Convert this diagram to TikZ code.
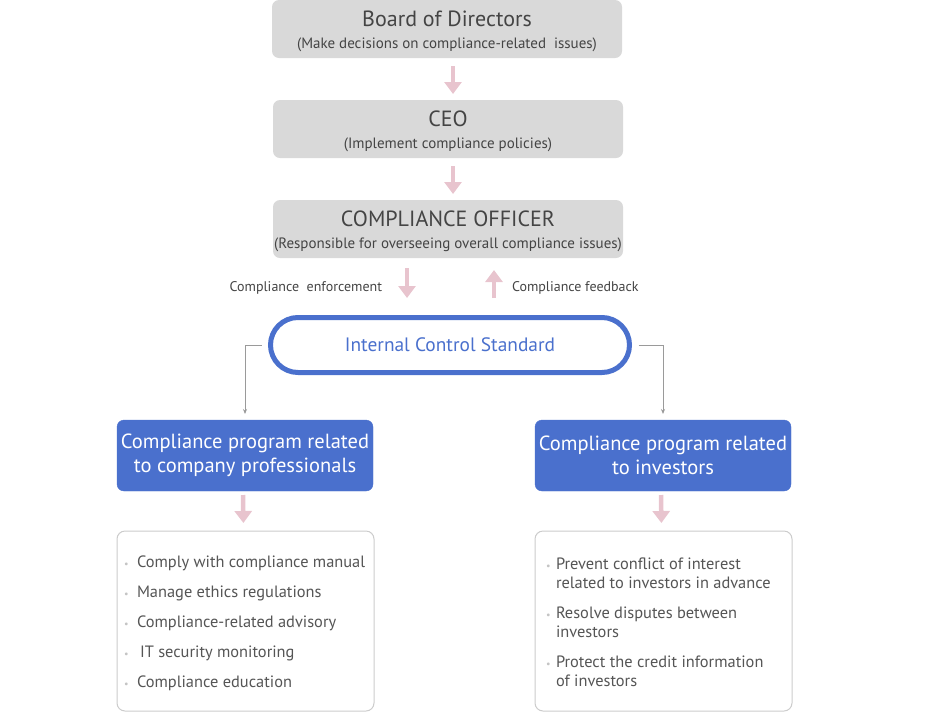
\documentclass[tikz,border=0pt]{standalone}
\usepackage{fontspec}
\usepackage{array}
\setmainfont{PT Sans}
\usepackage{tikz}
\usetikzlibrary{positioning}
\usetikzlibrary{arrows.meta}
\usetikzlibrary{calc}

\definecolor{boxgray}{HTML}{D9D9D9}
\definecolor{textgray}{HTML}{444444}
\definecolor{listgray}{HTML}{555555}
\definecolor{progblue}{HTML}{4A70CD}
\definecolor{arrowpink}{HTML}{E8C4CE}
\definecolor{linegray}{HTML}{9A9A9A}
\definecolor{framegray}{HTML}{CCCCCC}
\definecolor{dotgray}{HTML}{C4C4C4}

\newcommand{\itemdot}{\textcolor{dotgray}{\fontsize{10}{10}\selectfont\textbullet}}
\newcommand{\titlefont}{\fontsize{22}{24}\selectfont\rule{0pt}{21pt}}
\newcommand{\subfont}{\fontsize{15}{22}\selectfont}
\newcommand{\firstrow}{\rule{0pt}{19.3pt}}

\begin{document}
\begin{tikzpicture}[x=1pt, y=-1pt,
                node distance=42pt and 0pt,
                every node/.style={outer sep=0pt, inner sep=0pt, align=center, text=textgray},
                graybox/.style={fill=boxgray, rounded corners=7pt, minimum width=350pt, minimum height=58pt, font=\subfont},
                progbox/.style={fill=progblue, draw=progblue, rounded corners=7pt, minimum width=256pt, minimum height=71pt, text=white, font=\fontsize{20.5}{24}\selectfont},
                listbox/.style={fill=white, draw=framegray, line width=1pt, rounded corners=8pt, minimum width=257pt, minimum height=180pt, text=listgray, font=\fontsize{16.4}{19}\selectfont},
                pinkarrow/.style={draw=arrowpink, line width=4.5pt, -{Triangle[width=17pt,length=12pt]}},
                graylink/.style={draw=linegray, line width=0.8pt, -{Stealth[length=5pt,width=4pt]}}
            ]
            \useasboundingbox (0,0) rectangle (929,713);

            % Define nodes
            \node[graybox] (board) at (447,29) {{\titlefont Board of Directors}\\(Make decisions on compliance-related~ issues)};
            \node[graybox, below=of board, xshift=1pt] (ceo) {{\titlefont CEO}\\(Implement compliance policies)};
            \node[graybox, below=of ceo] (officer) {{\titlefont COMPLIANCE OFFICER}\\(Responsible for overseeing overall compliance issues)};

            \node[draw=progblue, fill=white, line width=5pt, rounded corners=27.5pt, minimum width=359pt, minimum height=55pt, text=progblue, font=\fontsize{19.4}{24}\selectfont] (ics) at (450,345) {Internal Control Standard};

            \node[progbox] (leftprog) at (245,455.5) {Compliance program related\\to company professionals};
            \node[progbox] (rightprog) at (663,455.5) {Compliance program related\\to investors};

            \node[listbox, below=40pt of leftprog, xshift=0.5pt] (leftlist) {%
              \begin{tabular}{@{}p{13pt}@{}>{\raggedright\arraybackslash}p{230pt}@{}}
                \firstrow\itemdot & Comply with compliance manual\\[11pt]
                \itemdot & Manage ethics regulations\\[11pt]
                \itemdot & Compliance-related advisory\\[11pt]
                \itemdot & \hspace{3pt}IT security monitoring\\[11pt]
                \itemdot & Compliance education
              \end{tabular}};
            \node[listbox, below=40pt of rightprog, xshift=0.5pt] (rightlist) {%
              \begin{tabular}{@{}p{10pt}@{}>{\raggedright\arraybackslash}p{225pt}@{}}
                \firstrow\itemdot & Prevent conflict of interest\\
                         & related to investors in advance\\[11pt]
                \itemdot & Resolve disputes between\\
                         & investors\\[11pt]
                \itemdot & Protect the credit information\\
                         & of investors
              \end{tabular}};

            % Arrows connecting boxes
            \draw[pinkarrow, shorten <=8pt, shorten >=6pt] ([xshift=6pt]board.south) -- ([xshift=5pt]ceo.north);
            \draw[pinkarrow, shorten <=8pt, shorten >=6pt] ([xshift=5pt]ceo.south) -- ([xshift=5pt]officer.north);
            \draw[pinkarrow, shorten <=10pt, shorten >=19.5pt] ([xshift=-41pt]officer.south) -- ([xshift=-43pt]ics.north)
              node[midway, left=25pt, font=\fontsize{14}{16}\selectfont] {Compliance~ enforcement};
            \draw[pinkarrow, shorten <=19.5pt, shorten >=12pt] ([xshift=44pt]ics.north) -- ([xshift=46pt]officer.south)
              node[midway, right=18pt, font=\fontsize{14}{16}\selectfont] {Compliance feedback};

            \draw[graylink] ([xshift=-9pt]ics.west) -| ([yshift=6pt]leftprog.north);
            \draw[graylink] ([xshift=9pt]ics.east) -| ([yshift=6pt]rightprog.north);

            \draw[pinkarrow, shorten <=4pt, shorten >=8pt] ([xshift=-2pt]leftprog.south) -- ([xshift=-2pt]leftlist.north);
            \draw[pinkarrow, shorten <=4pt, shorten >=8pt] ([xshift=-2pt]rightprog.south) -- ([xshift=-2pt]rightlist.north);

        \end{tikzpicture}
\end{document}
